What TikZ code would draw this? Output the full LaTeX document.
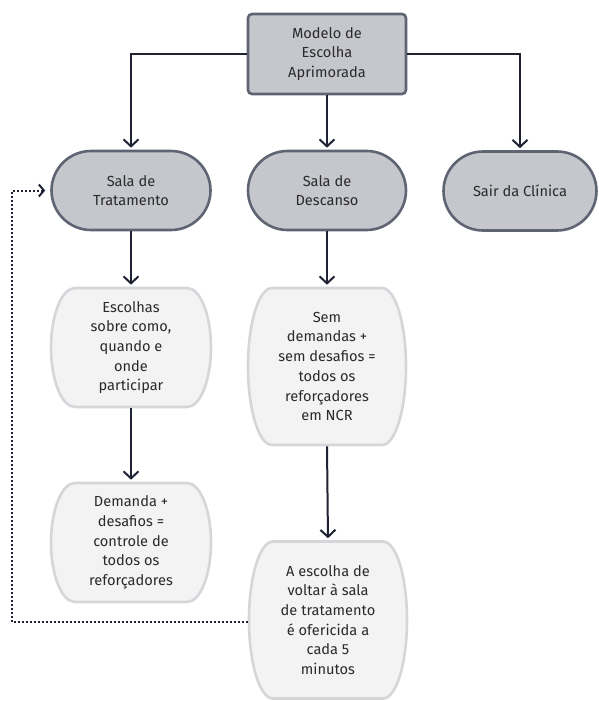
\documentclass[tikz,border=0pt]{standalone}
\usepackage{fontspec}
\setmainfont{Fira Sans}
\usetikzlibrary{arrows.meta,shapes.misc}
\definecolor{dgfill}{HTML}{C5C7CD}
\definecolor{dgdraw}{HTML}{5F6472}
\definecolor{ltfill}{HTML}{F3F3F4}
\definecolor{ltdraw}{HTML}{D5D6DA}
\definecolor{txt}{HTML}{2A2A2A}
\definecolor{arr}{HTML}{1E2233}
\tikzset{
  base/.style={align=center, text=txt, font=\fontsize{14.6}{19.7}\selectfont, inner sep=0pt, line width=2.6pt},
  topbox/.style={base, rectangle, rounded corners=4pt, fill=dgfill, draw=dgdraw, minimum width=158pt, minimum height=80pt},
  stadium/.style={base, rounded rectangle, fill=dgfill, draw=dgdraw, minimum height=79pt},
  softtext/.style={base, rectangle},
  softline/.style={fill=ltfill, draw=ltdraw, line width=2.6pt},
  conn/.style={draw=arr, line width=2pt, -{Straight Barb[length=7pt,width=15pt,line width=2pt]}, shorten >=2pt},
  dotconn/.style={draw=arr, line width=2pt, dash pattern=on 2pt off 2pt, -{Straight Barb[length=5pt,width=12pt,line width=2pt]}, shorten >=5pt}
}
% #1 name, #2 x, #3 y, #4 width, #5 height, #6 text
\newcommand\softbox[6]{%
  \draw[softline] ({#2-#4/2+24},{#3-#5/2}) -- ({#2+#4/2-24},{#3-#5/2})
     arc[start angle=90,end angle=-90,x radius=24pt,y radius={#5pt/2}]
     -- ({#2-#4/2+24},{#3+#5/2})
     arc[start angle=270,end angle=90,x radius=24pt,y radius={#5pt/2}] -- cycle;
  \node[softtext, minimum width=#4pt, minimum height=#5pt] (#1) at (#2,#3) {#6};
}
\begin{document}
\begin{tikzpicture}[x=1pt,y=-1pt]
\useasboundingbox (0,0) rectangle (599,701);
\node[topbox] (top) at (327,54) {Modelo de\\Escolha\\Aprimorada};
\node[stadium, minimum width=159pt] (tr) at (131,190.5) {Sala de\\Tratamento};
\node[stadium, minimum width=158pt] (desc) at (327,190.5) {Sala de\\Descanso};
\node[stadium, minimum width=153pt] (sair) at (520,191) {Sair da Clínica};
\softbox{esc}{131}{347.5}{160}{119}{Escolhas\\sobre como,\\quando e\\onde\\participar}
\softbox{dem}{131}{542.5}{160}{119}{Demanda +\\desafios =\\controle de\\todos os\\reforçadores}
\softbox{sem}{327}{366.5}{158}{157}{Sem\\demandas +\\sem desafios =\\todos os\\reforçadores\\em NCR}
\softbox{volta}{328}{620}{158}{157}{A escolha de\\voltar à sala\\de tratamento\\é ofericida a\\cada 5\\minutos}
\coordinate (dl) at (12,622);
\draw[conn] (top.west) -| (tr.north);
\draw[conn] (top.south) -- (desc.north);
\draw[conn] (top.east) -| (sair.north);
\draw[conn] (tr.south) -- (esc.north);
\draw[conn] (esc.south) -- (dem.north);
\draw[conn] (desc.south) -- (sem.north);
\draw[conn] (sem.south) -- (volta.north);
\draw[dotconn] (volta.west |- dl) -- (dl) |- (tr.west);
\end{tikzpicture}
\end{document}
